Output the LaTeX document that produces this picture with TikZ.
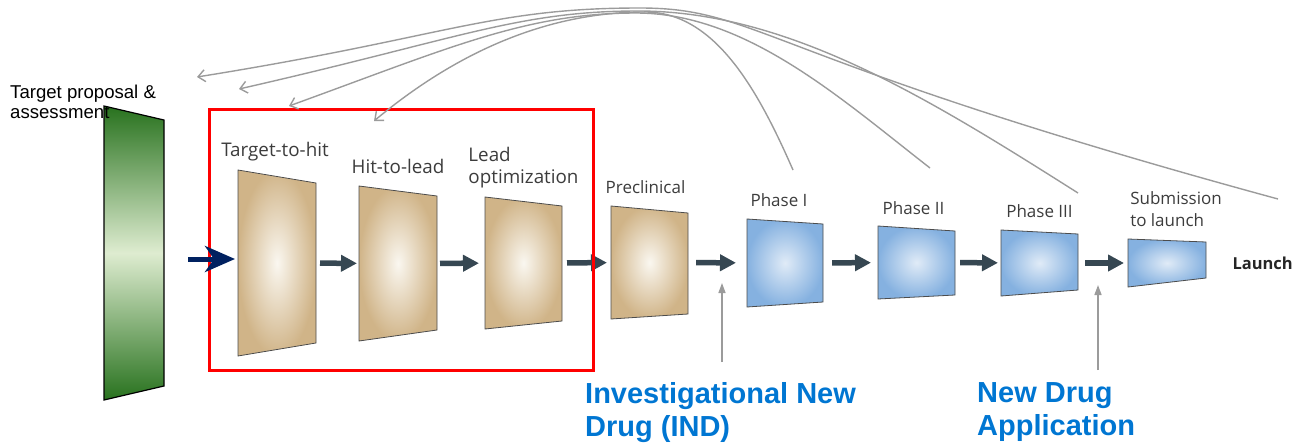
\documentclass[tikz,border=0pt]{standalone}
\usepackage{fontspec}
\setmainfont{Open Sans}
\newfontfamily\arialfont{Liberation Sans}
\usetikzlibrary{arrows.meta, positioning}
\definecolor{tanout}{RGB}{208,180,136}
\definecolor{tanin}{RGB}{250,247,240}
\definecolor{blueout}{RGB}{133,177,224}
\definecolor{bluein}{RGB}{224,235,247}
\definecolor{greenout}{RGB}{40,114,30}
\definecolor{greenin}{RGB}{222,236,208}
\definecolor{slate}{RGB}{54,71,82}
\definecolor{navy}{RGB}{0,33,96}
\definecolor{loopgray}{RGB}{155,155,155}
\definecolor{msblue}{RGB}{0,118,210}
\definecolor{lbltext}{RGB}{60,60,60}
\tikzset{
	slot/.style={inner sep=0pt, outer sep=0pt},
	tanfill/.style={draw=black!70, line width=0.8pt, shade, inner color=tanin, outer color=tanout},
	bluefill/.style={draw=black!70, line width=0.8pt, shade, inner color=bluein, outer color=blueout},
	lbl/.style={inner sep=0pt, text depth=0pt, text=lbltext, align=left,
		font=\fontsize{17}{22}\selectfont},
	biglbl/.style={lbl, font=\fontsize{18.8}{22}\selectfont},
	milestone/.style={inner sep=0pt, text=msblue, align=left,
		font=\arialfont\bfseries\fontsize{29}{33}\selectfont}
}

\begin{document}
\begin{tikzpicture}[x=1pt, y=-1pt]
	\tikzset{edge/.style={-{Triangle[length=16pt, width=16pt]}, line width=5.5pt, slate}}
	\tikzset{feedback/.style={-{Straight Barb[length=7pt, width=12pt]}, line width=1.4pt, loopgray}}
	\tikzset{gate/.style={-{Triangle[length=10pt, width=7pt]}, line width=1.4pt, loopgray}}
	\useasboundingbox (0,0) rectangle (1295,447);

	% stages
	\node(tp) at (134,253) [slot, minimum width=60, minimum height=294] {};
	\node(th) at (277,263) [slot, minimum width=78, minimum height=186] {};
	\node(hl) at (398,263.5) [slot, minimum width=78, minimum height=155] {};
	\node(lo) at (523.5,263) [slot, minimum width=77, minimum height=132] {};
	\node(pc) at (649.5,262.5) [slot, minimum width=77, minimum height=113] {};
	\node(p1) at (785,263) [slot, minimum width=76, minimum height=88] {};
	\node(p2) at (916.5,262.5) [slot, minimum width=77, minimum height=73] {};
	\node(p3) at (1039.5,263) [slot, minimum width=77, minimum height=66] {};
	\node(sl) at (1167,263) [slot, minimum width=78, minimum height=48] {};

	\path[draw=black, line width=1.2pt, top color=greenout, bottom color=greenout, middle color=greenin]
		(tp.north west) -- ([yshift=-14pt]tp.north east) -- ([yshift=14pt]tp.south east) -- (tp.south west) -- cycle;
	\path[tanfill] (th.north west) -- ([yshift=-13pt]th.north east) -- ([yshift=13pt]th.south east) -- (th.south west) -- cycle;
	\path[tanfill] (hl.north west) -- ([yshift=-10pt]hl.north east) -- ([yshift=11pt]hl.south east) -- (hl.south west) -- cycle;
	\path[tanfill] (lo.north west) -- ([yshift=-9pt]lo.north east) -- ([yshift=8pt]lo.south east) -- (lo.south west) -- cycle;
	\path[tanfill] (pc.north west) -- ([yshift=-7pt]pc.north east) -- ([yshift=5pt]pc.south east) -- (pc.south west) -- cycle;
	\path[bluefill] (p1.north west) -- ([yshift=-5pt]p1.north east) -- ([yshift=5pt]p1.south east) -- (p1.south west) -- cycle;
	\path[bluefill] (p2.north west) -- ([yshift=-5pt]p2.north east) -- ([yshift=4pt]p2.south east) -- (p2.south west) -- cycle;
	\path[bluefill] (p3.north west) -- ([yshift=-4pt]p3.north east) -- ([yshift=6pt]p3.south east) -- (p3.south west) -- cycle;
	\path[bluefill] (sl.north west) -- ([yshift=-3pt]sl.north east) -- ([yshift=9pt]sl.south east) -- (sl.south west) -- cycle;

	% labels
	\node(thl) [biglbl, above=13pt of th, xshift=-2pt] {Target-to-hit};
	\node(hll) [biglbl, above=12pt of hl] {Hit-to-lead};
	\node(lol) [biglbl, above=13pt of lo] {Lead\\optimization};
	\node(pcl) [lbl, above=12.5pt of pc, xshift=-4pt] {Preclinical};
	\node(p1l) [lbl, above=12.5pt of p1, xshift=-6pt] {Phase I};
	\node(p2l) [lbl, above=11.5pt of p2, xshift=-3pt] {Phase II};
	\node(p3l) [lbl, above=12.5pt of p3] {Phase III};
	\node(sll) [lbl, above=12pt of sl, xshift=9pt] {Submission\\to launch};
	\node(launch) at (1293,269) [lbl, anchor=base east, text=black!85, font=\bfseries\fontsize{16.5}{20}\selectfont] {Launch};
	\node(tpl) at (10,85) [anchor=north west, inner sep=0pt, align=left, font=\arialfont\fontsize{18.6}{20}\selectfont] {Target proposal \&\\assessment};

	% flow
	\draw[edge, shorten <=4pt, shorten >=2pt] (th) -- (hl);
	\draw[edge, shorten <=3pt, shorten >=6pt] (hl) -- (lo);
	\draw[edge, shorten <=5pt, shorten >=4pt] (lo) -- (pc);
	\draw[edge, shorten <=8pt, shorten >=11pt] (pc) -- (p1);
	\draw[edge, shorten <=9pt, shorten >=7pt] (p1) -- (p2);
	\draw[edge, shorten <=5pt, shorten >=3pt] (p2) -- (p3);
	\draw[edge, shorten <=7pt, shorten >=4pt] (p3) -- (sl);

	\draw[red, line width=3pt] (209,109) rectangle (593,370);
	\draw[-{Stealth[length=30pt, width=26pt, inset=9pt]}, line width=5pt, navy, shorten <=24pt, shorten >=3pt]
		([yshift=4pt]tp.east |- th.west) -- ([yshift=4pt]th.west);

	% milestones
	\node(ind) at (585,382) [milestone, anchor=north west] {Investigational New\\Drug (IND)};
	\node(nda) at (977,382) [milestone, anchor=north west] {New Drug\\Application};
	\coordinate(indtip) at (722,283);
	\coordinate(ndatip) at (1098,285);
	\draw[gate, shorten <=20pt] (indtip |- ind.north) -- (indtip);
	\draw[gate, shorten <=12pt] (ndatip |- nda.north) -- (ndatip);

	% feedback loops
	\coordinate(r1) at (793,170);
	\coordinate(r2) at (930,168);
	\coordinate(r3) at (1078,193);
	\coordinate(r4) at (1278,199);
	\coordinate(l1) at (197,77);
	\coordinate(l2) at (239,89);
	\coordinate(l3) at (289,106);
	\coordinate(l4) at (374,121);
	\draw[feedback] (r4) .. controls +(-518,-141) and +(120,0) .. (640,8) .. controls +(-150,0) and +(250,-40) .. (l1);
	\draw[feedback] (r3) .. controls +(-150,-95) and +(150,0) .. (638,11) .. controls +(-120,0) and +(220,-50) .. (l2);
	\draw[feedback] (r2) .. controls +(-90,-70) and +(110,0) .. (636,13) .. controls +(-110,0) and +(160,-58) .. (l3);
	\draw[feedback] (r1) .. controls +(-35,-80) and +(70,0) .. (645,12) .. controls +(-90,0) and +(90,-75) .. (l4);
\end{tikzpicture}
\end{document}
